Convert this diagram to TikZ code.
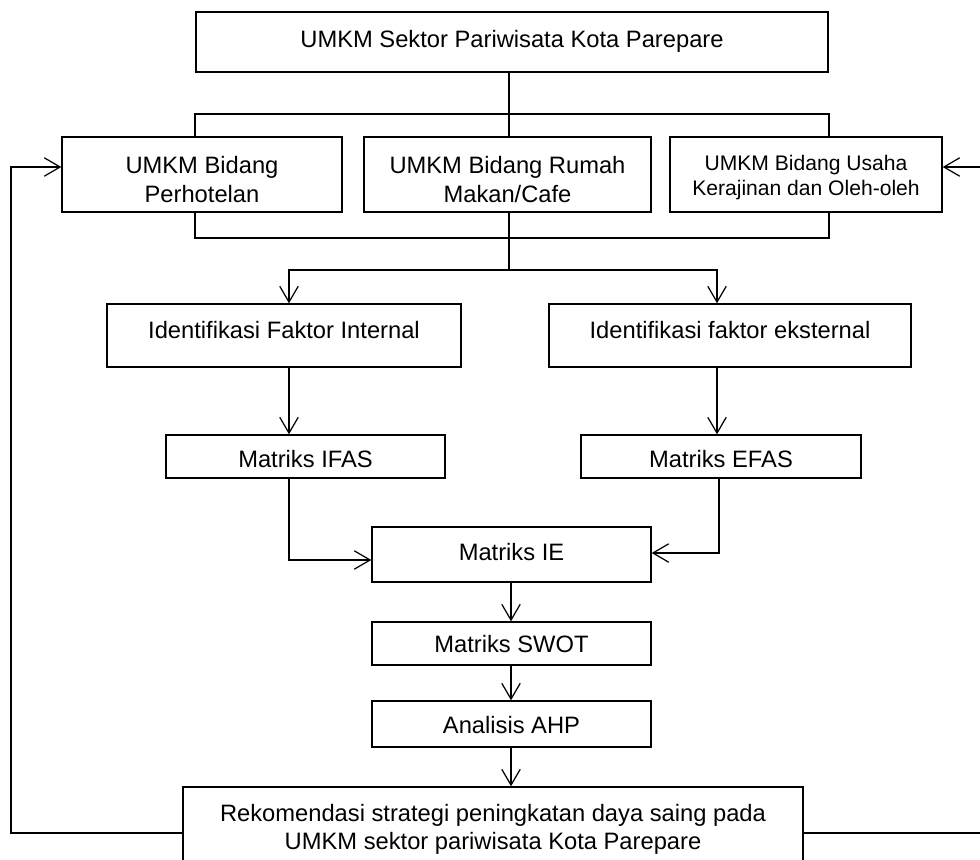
\documentclass[tikz,border=0pt]{standalone}
\usepackage{fontspec}
\setmainfont{Liberation Sans}
\usetikzlibrary{arrows.meta,fit}
\begin{document}
\begin{tikzpicture}[x=0.02cm,y=-0.02cm,
  box/.style={draw,line width=0.8pt,inner sep=0pt},
  txt/.style={align=center,inner sep=0pt,font=\fontsize{13.5}{16.2}\selectfont},
  smalltxt/.style={txt,font=\fontsize{12}{14.2}\selectfont},
  conn/.style={line width=0.7pt},
  arr/.style={conn,-{Straight Barb[length=9pt,width=10.5pt,line width=0.7pt]}}]
\useasboundingbox (0,0) rectangle (980,859);
\clip (0,0) rectangle (980,859);
% boxes
\node[box,fit={(196,12) (828,72)}] (top) {};
\node[box,fit={(62,137) (342,212)}] (b1) {};
\node[box,fit={(364,137) (651,212)}] (b2) {};
\node[box,fit={(670,137) (942,212)}] (b3) {};
\node[box,fit={(107,304) (461,367)}] (ii) {};
\node[box,fit={(549,304) (911,367)}] (ie) {};
\node[box,fit={(166,435) (445,478)}] (ifas) {};
\node[box,fit={(581,435) (861,478)}] (efas) {};
\node[box,fit={(372,527) (651,582)}] (mie) {};
\node[box,fit={(372,622) (651,665)}] (swot) {};
\node[box,fit={(372,701) (651,747)}] (ahp) {};
\node[box,fit={(183,787) (803,868)}] (rek) {};
% texts
\node[txt] (topT) at ([yshift=0.02cm]top.center) {UMKM Sektor Pariwisata Kota Parepare};
\node[txt] (b1T) at ([yshift=-0.1cm]b1.center) {UMKM Bidang\\Perhotelan};
\node[txt] (b2T) at ([yshift=-0.1cm]b2.center) {UMKM Bidang Rumah\\Makan/Cafe};
\node[smalltxt] (b3T) at ([yshift=-0.06cm]b3.center) {UMKM Bidang Usaha\\Kerajinan dan Oleh-oleh};
\node[txt] (iiT) at ([yshift=0.1cm]ii.center) {Identifikasi Faktor Internal};
\node[txt] (ieT) at ([yshift=0.1cm]ie.center) {Identifikasi faktor eksternal};
\node[txt] (ifasT) at ([yshift=-0.06cm]ifas.center) {Matriks IFAS};
\node[txt] (efasT) at ([yshift=-0.06cm]efas.center) {Matriks EFAS};
\node[txt] (mieT) at ([yshift=0.04cm]mie.center) {Matriks IE};
\node[txt] (swotT) at ([yshift=-0.02cm]swot.center) {Matriks SWOT};
\node[txt] (ahpT) at ([yshift=-0.02cm]ahp.center) {Analisis AHP};
\node[txt] (rekT) at ([yshift=-0.04cm]rek.center) {Rekomendasi strategi peningkatan daya saing pada\\UMKM sektor pariwisata Kota Parepare};
% helper coordinates
\coordinate (tl) at (195,114);
\coordinate (tr) at (829,114);
\coordinate (bl) at (195,238);
\coordinate (br) at (829,238);
\coordinate (sp) at (509,270);
\coordinate (xi) at (289,270);
\coordinate (xe) at (717,270);
\coordinate (ci) at (289,560);
\coordinate (ce) at (719,553);
\coordinate (cx) at (511,0);
\coordinate (fl) at (11,833);
\coordinate (fl2) at (11,167);
\coordinate (fr) at (1000,833);
\coordinate (fr2) at (1000,167);
% connectors
\draw[conn] (top.south -| sp) -- (b2.north -| sp);
\draw[conn] (b1.north -| tl) -- (tl) -- (tr) -- (b3.north -| tr);
\draw[conn] (b1.south -| bl) -- (bl) -- (br) -- (b3.south -| br);
\draw[conn] (b2.south -| sp) -- (sp);
\draw[arr] (sp) -- (xi) -- (xi |- ii.north);
\draw[arr] (sp) -- (xe) -- (xe |- ie.north);
\draw[arr] (xi |- ii.south) -- (xi |- ifas.north);
\draw[arr] (xe |- ie.south) -- (xe |- efas.north);
\draw[arr] (ifas.south -| ci) -- (ci) -- (ci -| mie.west);
\draw[arr] (efas.south -| ce) -- (ce) -- (ce -| mie.east);
\draw[arr] (mie.south -| cx) -- (swot.north -| cx);
\draw[arr] (swot.south -| cx) -- (ahp.north -| cx);
\draw[arr] (ahp.south -| cx) -- (rek.north -| cx);
\draw[arr] (rek.west |- fl) -- (fl) -- (fl2) -- (fl2 -| b1.west);
\draw[arr] (rek.east |- fr) -- (fr) -- (fr2) -- (fr2 -| b3.east);
\end{tikzpicture}
\end{document}
